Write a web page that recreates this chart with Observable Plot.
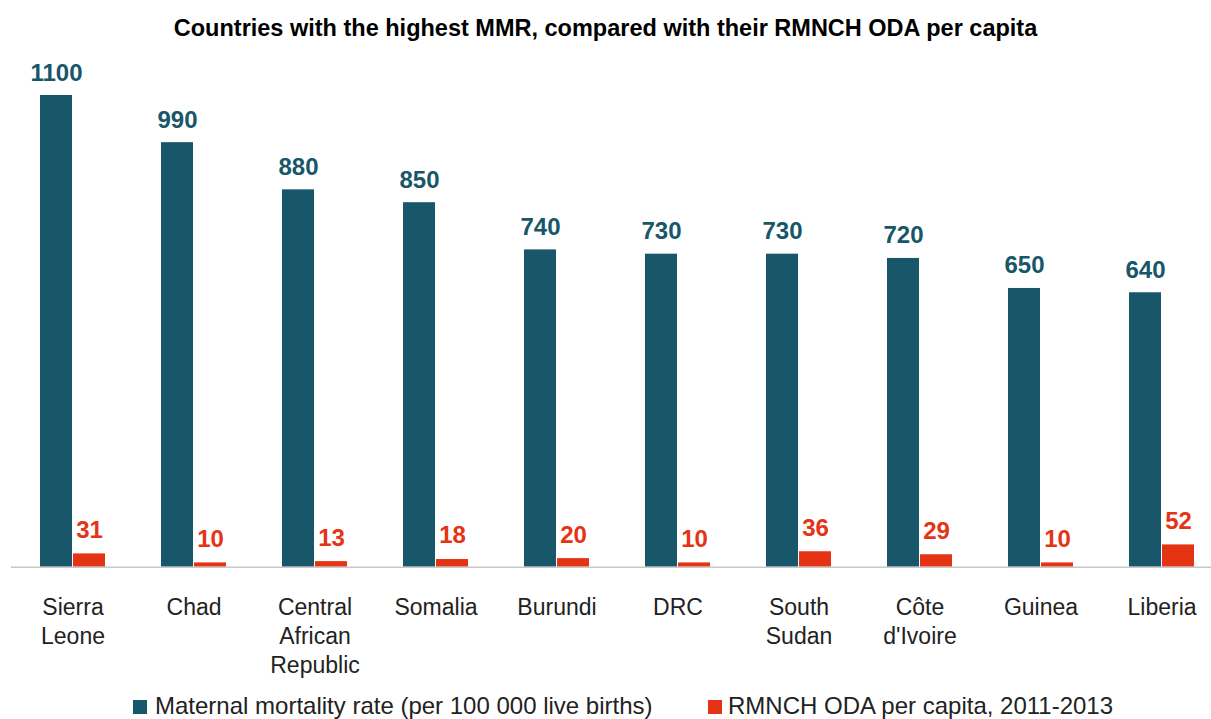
<!DOCTYPE html>
<html>
<head>
<meta charset="utf-8">
<script src="https://cdn.jsdelivr.net/npm/d3@7"></script>
<script src="https://cdn.jsdelivr.net/npm/@observablehq/plot@0.6"></script>
<style>
  html, body { margin: 0; padding: 0; background: #fff; }
  body { width: 1211px; height: 719px; position: relative; overflow: hidden; font-family: "Liberation Sans", Arial, sans-serif; }
  #title { height: 50px; line-height: 56px; text-align: center; font-weight: bold; font-size: 23.5px; color: #000; white-space: nowrap; }
  #chart svg { display: block; }
  #legend { position: absolute; left: 0; top: 0; width: 1211px; height: 719px; pointer-events: none; font-size: 24px; color: #222; }
  .sw { position: absolute; top: 700px; width: 14px; height: 14px; }
  .tx { position: absolute; top: 692px; line-height: 28px; white-space: nowrap; }
</style>
</head>
<body>
<div id="title">Countries with the highest MMR, compared with their RMNCH ODA per capita</div>
<div id="chart"></div>
<div id="legend"></div>
<script>
const countries = ["Sierra Leone","Chad","Central African Republic","Somalia","Burundi","DRC","South Sudan","Côte d'Ivoire","Guinea","Liberia"];
const tickLabels = ["Sierra\nLeone","Chad","Central\nAfrican\nRepublic","Somalia","Burundi","DRC","South\nSudan","Côte\nd'Ivoire","Guinea","Liberia"];
const mmr = [1100,990,880,850,740,730,730,720,650,640];
const oda = [31,10,13,18,20,10,36,29,10,52];
const seriesNames = ["Maternal mortality rate (per 100 000 live births)", "RMNCH ODA per capita, 2011-2013"];
const colors = ["#18566a", "#e53414"];

const data = countries.map((c, i) => ({country: c, mmr: mmr[i], oda: oda[i]}));

const chart = Plot.plot({
  width: 1211,
  height: 640,
  marginLeft: 11,
  marginRight: 0,
  marginTop: 45,
  marginBottom: 123.3,
  style: {fontFamily: "'Liberation Sans', Arial, sans-serif", background: "transparent"},
  x: {domain: countries, range: [11, 1222], paddingInner: 0.4633, paddingOuter: 0.2317, align: 0.5, label: null},
  y: {domain: [0, 1100], axis: null},
  marks: [
    Plot.barY(data, {x: "country", y: "mmr", fill: colors[0], insetRight: 33}),
    Plot.barY(data, {x: "country", y: "oda", fill: colors[1], insetLeft: 33}),
    Plot.ruleY([0], {stroke: "#c8c8c8", strokeWidth: 1.5}),
    Plot.text(data, {x: "country", y: "mmr", text: d => String(d.mmr), dx: -16.5, dy: -15, lineAnchor: "bottom", fill: colors[0], fontWeight: "bold", fontSize: 24}),
    Plot.text(data, {x: "country", y: "oda", text: d => String(d.oda), dx: 16.5, dy: -16, lineAnchor: "bottom", fill: colors[1], fontWeight: "bold", fontSize: 24}),
    Plot.axisX({tickSize: 0, tickPadding: 27, fontSize: 23, lineHeight: 1.26, fill: "#222", tickFormat: d => tickLabels[countries.indexOf(d)], label: null})
  ]
});
document.getElementById("chart").appendChild(chart);

const legend = document.getElementById("legend");
const swLefts = [133, 708];
const txLefts = [155, 728];
seriesNames.forEach((name, i) => {
  const sw = document.createElement("div");
  sw.className = "sw";
  sw.style.left = swLefts[i] + "px";
  sw.style.background = colors[i];
  const tx = document.createElement("div");
  tx.className = "tx";
  tx.style.left = txLefts[i] + "px";
  tx.textContent = name;
  legend.appendChild(sw);
  legend.appendChild(tx);
});
</script>
</body>
</html>
